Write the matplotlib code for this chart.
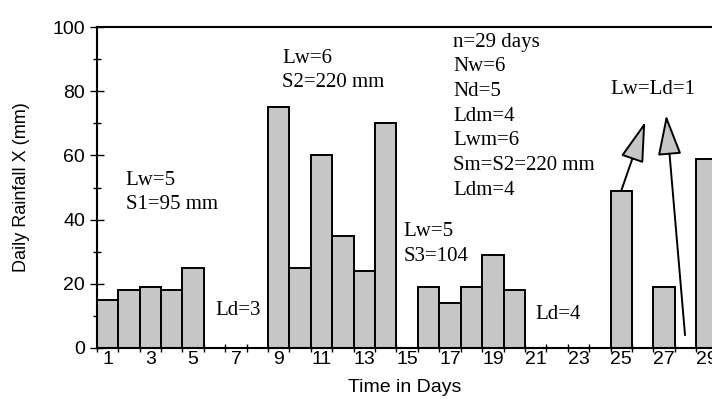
##### IMPORTS #####
import matplotlib
matplotlib.use("Agg")
import matplotlib.pyplot as plt
from matplotlib.patches import FancyArrowPatch

#####################################################################################
# DATA SECTION
#####################################################################################

days = list(range(1, 30))
rainfall = [15, 18, 19, 18, 25, 0, 0, 0, 75, 25, 60, 35, 24, 70, 0,
            19, 14, 19, 29, 18, 0, 0, 0, 0, 49, 0, 19, 0, 59]
tick_days = list(range(1, 30, 2))

# annotations: (lines, x, y) in data units, y = centre of first line
notes = [
    (["Lw=5", "S1=95 mm"], 1.84, 52.3),
    (["Ld=3"], 6.04, 11.8),
    (["Lw=6", "S2=220 mm"], 9.17, 90.3),
    (["n=29 days", "Nw=6", "Nd=5", "Ldm=4", "Lwm=6", "Sm=S2=220 mm", "Ldm=4"],
     17.15, 95.3),
    (["Lw=5", "S3=104"], 14.82, 36.2),
    (["Ld=4"], 20.98, 10.3),
    (["Lw=Ld=1"], 24.48, 80.4),
]
line_step = 7.7

# arrows: (start, tip)
arrows = [((25.0, 49.0), (26.12, 70.5)),
          ((27.98, 4.0), (27.1, 72.6))]

#####################################################################################
# PLOT SECTION
#####################################################################################

fig = plt.figure(figsize=(7.12, 4.0), dpi=100)
ax = fig.add_axes([0.136, 0.13, 0.864, 0.8025])

ax.bar(days, rainfall, width=1.0, color="#c6c6c6", edgecolor="black",
       linewidth=1.4, zorder=2)

ax.set_xlim(0.53, 29.24)
ax.set_ylim(0, 100)

# x ticks: small marks at bar edges, labels at odd days
ax.set_xticks([d + 0.5 for d in range(0, 29)])
ax.set_xticklabels([])
ax.tick_params(axis="x", which="major", direction="inout", length=6, width=1)
ax.set_xticks(tick_days, minor=True)
ax.set_xticklabels([str(d) for d in tick_days], minor=True,
                   family="Liberation Sans", fontsize=14)
ax.tick_params(axis="x", which="minor", length=0, pad=2)

# y ticks
ax.set_yticks(range(0, 101, 20))
ax.set_yticks(range(10, 100, 20), minor=True)
ax.set_yticklabels([str(v) for v in range(0, 101, 20)],
                   family="Liberation Sans", fontsize=14)
ax.tick_params(axis="y", which="major", direction="inout", length=10, width=1)
ax.tick_params(axis="y", which="minor", direction="inout", length=6, width=1)

for side in ["left", "bottom", "top"]:
    ax.spines[side].set_linewidth(1.5)
ax.spines["right"].set_visible(False)

ax.set_xlabel("Time in Days", family="Liberation Sans", fontsize=14, labelpad=8)
ax.set_ylabel("Daily Rainfall X (mm)", family="Liberation Sans", fontsize=13,
              labelpad=16)

# text notes in serif, one line at a time
for lines, x, y in notes:
    for i, txt in enumerate(lines):
        ax.text(x, y - i * line_step, txt, family="Liberation Serif",
                fontsize=15, ha="left", va="center")

for start, tip in arrows:
    arr = FancyArrowPatch(start, tip,
                          arrowstyle="-|>,head_length=1.7,head_width=0.5",
                          mutation_scale=15, facecolor="#c6c6c6",
                          edgecolor="black", linewidth=1.4,
                          shrinkA=0, shrinkB=0, zorder=3)
    ax.add_patch(arr)

plt.savefig("out.png", dpi=100)
